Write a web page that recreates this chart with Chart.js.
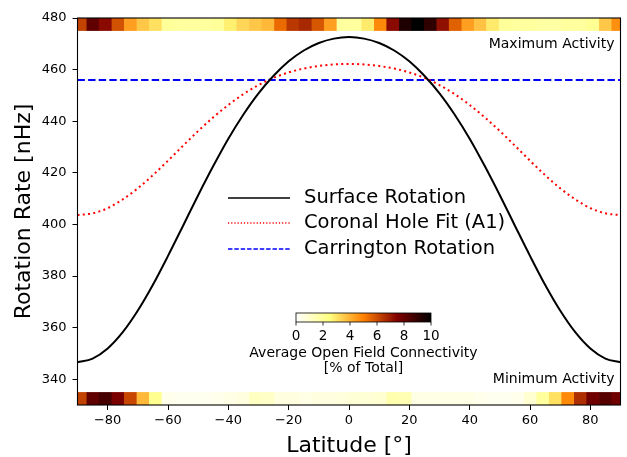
<!DOCTYPE html>
<html>
<head>
<meta charset="utf-8">
<script src="https://cdn.jsdelivr.net/npm/chart.js@4.4.1/dist/chart.umd.min.js"></script>
<style>
  html, body { margin: 0; padding: 0; background: #fff; }
  canvas { display: block; }
</style>
</head>
<body>
<canvas id="rotationChart" width="627" height="457"></canvas>
<script>
// latitude samples [deg] for the rotation profiles
var latitudes = [-90, -85, -80, -75, -70, -65, -60, -55, -50, -45, -40, -35, -30, -25, -20, -15, -10, -5, 0,
                 5, 10, 15, 20, 25, 30, 35, 40, 45, 50, 55, 60, 65, 70, 75, 80, 85, 90];
// rotation rates [nHz]
var surfaceRotation = [346.6, 348.0, 351.9, 358.2, 366.6, 376.6, 387.8, 399.5, 411.3, 422.6, 433.2, 442.6, 450.8, 457.6, 463.2, 467.4, 470.3, 472.0, 472.6,
                       472.0, 470.3, 467.4, 463.2, 457.6, 450.8, 442.6, 433.2, 422.6, 411.3, 399.5, 387.8, 376.6, 366.6, 358.2, 351.9, 348.0, 346.6];
var coronalHoleFit = [403.6, 404.3, 406.3, 409.7, 414.0, 419.1, 424.7, 430.5, 436.2, 441.5, 446.3, 450.5, 454.0, 456.8, 458.9, 460.4, 461.4, 462.0, 462.2,
                      462.0, 461.4, 460.4, 458.9, 456.8, 454.0, 450.5, 446.3, 441.5, 436.2, 430.5, 424.7, 419.1, 414.0, 409.7, 406.3, 404.3, 403.6];
var carringtonRate = 456.0;

// open field connectivity [% of total], binned in latitude
var binEdges = [-90, -87, -82.9, -78.7, -74.6, -70.4, -66.3, -62.1, -58, -53.8, -49.7, -45.5, -41.4, -37.3, -33.1, -29, -24.8, -20.7, -16.6, -12.4, -8.3, -4.1,
                0, 4.1, 8.3, 12.4, 16.6, 20.7, 24.8, 29, 33.1, 37.3, 41.4, 45.5, 49.7, 53.8, 58, 62.1, 66.3, 70.4, 74.6, 78.7, 82.9, 87, 90];
var maxActivity = [6.2, 8.1, 7.3, 5.9, 4.4, 3.6, 3.1, 2.0, 1.9, 1.9, 1.9, 2.0, 2.8, 3.3, 3.6, 3.9, 5.4, 6.4, 6.7, 5.8, 4.4, 1.9,
                   1.9, 2.9, 4.8, 7.3, 9.4, 10, 9.1, 7.2, 5.6, 4.4, 3.7, 2.9, 2.0, 1.9, 1.9, 1.8, 1.8, 1.9, 1.9, 2.1, 3.6, 4.7];
var minActivity = [6.2, 8.1, 8.6, 7.6, 6.1, 3.9, 2.2, 0.4, 0.3, 0.3, 0.3, 0.4, 0.5, 0.6, 1.2, 1.1, 0.6, 0.6, 0.5, 0.6, 0.6, 0.7,
                   0.8, 0.8, 0.9, 1.6, 1.5, 0.5, 0.5, 0.5, 0.5, 0.5, 0.4, 0.3, 0.3, 0.4, 0.9, 1.9, 3.1, 4.8, 6.6, 7.8, 8.3, 7.8];
// rate band [nHz] covered by each strip
var maxBand = [475, 480];
var minBand = [330, 335];

var xTicks = [-80, -60, -40, -20, 0, 20, 40, 60, 80];
var yTicks = [340, 360, 380, 400, 420, 440, 460, 480];
var cbarTicks = [0, 2, 4, 6, 8, 10];

var FONT = "'DejaVu Sans', sans-serif";

// reversed afmhot: 0 -> white, 10 -> black
function heatColor(v) {
    var x = 1 - Math.min(Math.max(v / 10, 0), 1);
    var clamp = function (c) { return Math.round(255 * Math.min(1, Math.max(0, c))); };
    return 'rgb(' + clamp(2 * x) + ',' + clamp(2 * x - 0.5) + ',' + clamp(2 * x - 1) + ')';
}

function toPoints(values) {
    return latitudes.map(function (lat, i) { return { x: lat, y: values[i] }; });
}

var decorations = {
    id: 'decorations',
    beforeDatasetsDraw: function (chart) {
        var ctx = chart.ctx, xs = chart.scales.x, ys = chart.scales.y, a = chart.chartArea;
        ctx.save();
        ctx.beginPath();
        ctx.rect(a.left, a.top, a.right - a.left, a.bottom - a.top);
        ctx.clip();
        function strip(values, band) {
            var yTop = ys.getPixelForValue(band[1]);
            var yBot = ys.getPixelForValue(band[0]);
            for (var i = 0; i < values.length; i++) {
                var x0 = xs.getPixelForValue(binEdges[i]);
                var x1 = xs.getPixelForValue(binEdges[i + 1]);
                ctx.fillStyle = heatColor(values[i]);
                ctx.fillRect(x0, yTop, x1 - x0 + 0.6, yBot - yTop);
            }
        }
        strip(maxActivity, maxBand);
        strip(minActivity, minBand);
        ctx.restore();
    },
    afterDraw: function (chart) {
        var ctx = chart.ctx, a = chart.chartArea;
        ctx.save();

        // frame
        ctx.strokeStyle = '#000';
        ctx.lineWidth = 1.1;
        ctx.strokeRect(a.left, a.top, a.right - a.left, a.bottom - a.top);

        // activity labels
        ctx.fillStyle = '#000';
        ctx.font = '14px ' + FONT;
        ctx.textAlign = 'right';
        ctx.textBaseline = 'middle';
        ctx.fillText('Maximum Activity', a.right - 6, 44);
        ctx.fillText('Minimum Activity', a.right - 6, 379);

        // legend
        var rows = [198, 223, 249];
        chart.data.datasets.forEach(function (ds, i) {
            ctx.beginPath();
            ctx.strokeStyle = ds.borderColor;
            ctx.lineWidth = 1.3;
            ctx.setLineDash(ds.borderDash ? ds.borderDash.map(function (d) { return d * 0.6; }) : []);
            ctx.moveTo(228, rows[i]);
            ctx.lineTo(290, rows[i]);
            ctx.stroke();
            ctx.setLineDash([]);
            ctx.fillStyle = '#000';
            ctx.font = '19.5px ' + FONT;
            ctx.textAlign = 'left';
            ctx.fillText(ds.label, 304, rows[i]);
        });

        // colour bar
        var cx0 = 296, cx1 = 431, cy0 = 313, cy1 = 322;
        var grad = ctx.createLinearGradient(cx0, 0, cx1, 0);
        for (var s = 0; s <= 20; s++) {
            grad.addColorStop(s / 20, heatColor(s / 2));
        }
        ctx.fillStyle = grad;
        ctx.fillRect(cx0, cy0, cx1 - cx0, cy1 - cy0);
        ctx.strokeStyle = '#000';
        ctx.lineWidth = 0.8;
        ctx.strokeRect(cx0, cy0, cx1 - cx0, cy1 - cy0);
        ctx.font = '13.5px ' + FONT;
        ctx.textAlign = 'center';
        ctx.fillStyle = '#000';
        cbarTicks.forEach(function (t) {
            var tx = cx0 + (cx1 - cx0) * t / 10;
            ctx.beginPath();
            ctx.moveTo(tx, cy1);
            ctx.lineTo(tx, cy1 + 3.5);
            ctx.stroke();
            ctx.fillText(String(t), tx, 336);
        });
        ctx.font = '14px ' + FONT;
        ctx.fillText('Average Open Field Connectivity', (cx0 + cx1) / 2, 353);
        ctx.fillText('[% of Total]', (cx0 + cx1) / 2, 368);
        ctx.restore();
    }
};

var ctx = document.getElementById('rotationChart').getContext('2d');
var rotationChart = new Chart(ctx, {
    type: 'line',
    data: {
        datasets: [
            {
                label: 'Surface Rotation',
                data: toPoints(surfaceRotation),
                borderColor: '#000000',
                borderWidth: 2,
                cubicInterpolationMode: 'monotone'
            },
            {
                label: 'Coronal Hole Fit (A1)',
                data: toPoints(coronalHoleFit),
                borderColor: '#ff0000',
                borderWidth: 2,
                borderDash: [2, 3.3],
                cubicInterpolationMode: 'monotone'
            },
            {
                label: 'Carrington Rotation',
                data: [{ x: -90, y: carringtonRate }, { x: 90, y: carringtonRate }],
                borderColor: '#0000ff',
                borderWidth: 2,
                borderDash: [7.4, 3.2]
            }
        ]
    },
    options: {
        responsive: false,
        animation: false,
        events: [],
        elements: { point: { radius: 0 } },
        layout: { padding: { top: 18, right: 6.5, left: 0, bottom: 0 } },
        plugins: {
            legend: { display: false },
            tooltip: { enabled: false }
        },
        scales: {
            x: {
                type: 'linear',
                min: -90,
                max: 90,
                afterBuildTicks: function (scale) {
                    scale.ticks = xTicks.map(function (v) { return { value: v }; });
                },
                afterFit: function (scale) { scale.height = 52; },
                grid: { drawOnChartArea: false, color: '#000', tickLength: 5, tickWidth: 1 },
                border: { display: false },
                ticks: {
                    color: '#000',
                    font: { family: FONT, size: 13 },
                    padding: 3,
                    maxRotation: 0,
                    callback: function (v) { return v < 0 ? '\u2212' + Math.abs(v) : String(v); }
                },
                title: {
                    display: true,
                    text: 'Latitude [\u00b0]',
                    color: '#000',
                    font: { family: FONT, size: 22, lineHeight: 1 },
                    padding: { top: 0, bottom: 0 }
                }
            },
            y: {
                type: 'linear',
                min: 330,
                max: 480,
                afterBuildTicks: function (scale) {
                    scale.ticks = yTicks.map(function (v) { return { value: v }; });
                },
                afterFit: function (scale) { scale.width = 77.5; },
                grid: { drawOnChartArea: false, color: '#000', tickLength: 5, tickWidth: 1 },
                border: { display: false },
                ticks: {
                    color: '#000',
                    font: { family: FONT, size: 13 },
                    padding: 6
                },
                title: {
                    display: true,
                    text: 'Rotation Rate [nHz]',
                    color: '#000',
                    font: { family: FONT, size: 22, lineHeight: 1.2 },
                    padding: { top: 11, bottom: 0 }
                }
            }
        }
    },
    plugins: [decorations]
});
</script>
</body>
</html>
